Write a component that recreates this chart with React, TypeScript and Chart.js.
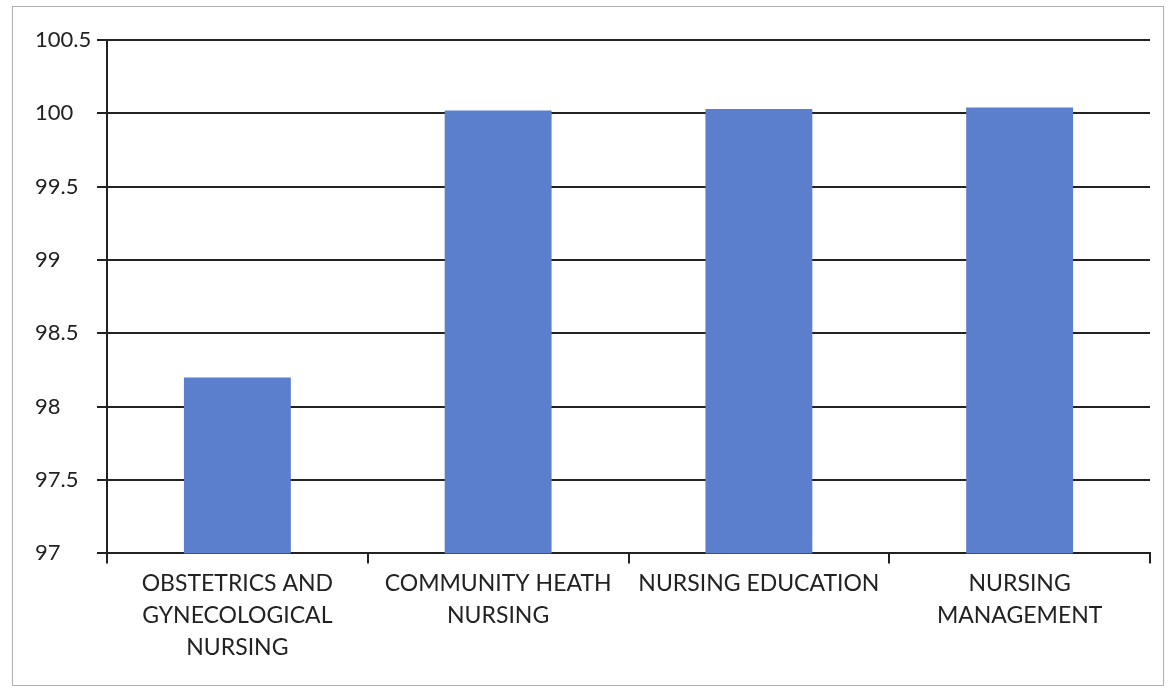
import React, { useEffect, useRef } from "react";
import { Chart, registerables } from "chart.js";

Chart.register(...registerables);

const categories: string[][] = [
  ["OBSTETRICS AND", "GYNECOLOGICAL", "NURSING"],
  ["COMMUNITY HEATH", "NURSING"],
  ["NURSING EDUCATION"],
  ["NURSING", "MANAGEMENT"],
];
const values: number[] = [98.2, 100.02, 100.03, 100.04];
const yMin = 97;
const yMax = 100.5;
const yStep = 0.5;

export default function App() {
  const ref = useRef<HTMLCanvasElement | null>(null);

  useEffect(() => {
    document.body.style.margin = "0";
    const ctx = ref.current!.getContext("2d")!;
    const chart = new Chart(ctx, {
      type: "bar",
      data: {
        labels: categories,
        datasets: [
          {
            data: values,
            backgroundColor: "#5b7fcc",
            borderWidth: 0,
            barPercentage: 0.82,
            categoryPercentage: 0.5,
          },
        ],
      },
      options: {
        responsive: false,
        animation: false,
        devicePixelRatio: 1,
        layout: { padding: { left: 35, right: 20, top: 40, bottom: 24 } },
        plugins: { legend: { display: false }, tooltip: { enabled: false } },
        scales: {
          x: {
            offset: true,
            grid: {
              offset: true,
              drawOnChartArea: false,
              drawTicks: true,
              tickLength: 10,
              color: "#222",
              lineWidth: 2,
            },
            border: { color: "#222", width: 2 },
            ticks: {
              color: "#222",
              font: { family: "Lato", size: 23, lineHeight: 1.4 },
              padding: 4,
              maxRotation: 0,
              autoSkip: false,
            },
          },
          y: {
            min: yMin,
            max: yMax,
            afterFit: (axis: any) => {
              axis.width = 72;
            },
            grid: {
              color: "#222",
              lineWidth: 2,
              tickLength: 10,
              z: -1,
            },
            border: { color: "#222", width: 2 },
            ticks: {
              stepSize: yStep,
              color: "#222",
              crossAlign: "far",
              font: { family: "Lato", size: 22 },
              callback: (v: any) => String(v),
            },
          },
        },
      },
    });
    return () => chart.destroy();
  }, []);

  return (
    <div style={{ position: "relative", width: 1170, height: 692, background: "#fff" }}>
      <div
        style={{
          position: "absolute",
          left: 12,
          top: 6,
          width: 1152,
          height: 680,
          border: "1px solid #b0b0b0",
          boxSizing: "border-box",
        }}
      />
      <canvas ref={ref} width={1170} height={692} style={{ position: "absolute", left: 0, top: 0 }} />
    </div>
  );
}
